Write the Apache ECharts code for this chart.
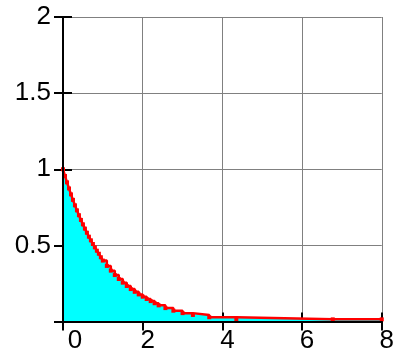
<!DOCTYPE html>
<html>
<head>
<meta charset="utf-8">
<script src="https://cdn.jsdelivr.net/npm/echarts@6/dist/echarts.min.js"></script>
<style>html,body{margin:0;padding:0;background:#fff}#c{width:397px;height:354px}</style>
</head>
<body>
<div id="c"></div>
<script>
// Data (step curve)
var xValues = [0,0.05,0.1,0.15,0.2,0.25,0.3,0.35,0.4,0.45,0.5,0.55,0.6,0.65,0.7,0.75,0.8,0.85,0.9,0.95,1.0,
  1.1,1.2,1.3,1.4,1.5,1.6,1.7,1.8,1.9,2.0,2.1,2.2,2.3,2.4,
  2.57,2.77,3.0,3.26,3.67,4.35,6.77,8.0];
var yValues = [1.000,0.956,0.914,0.874,0.835,0.799,0.763,0.730,0.698,0.667,0.638,0.610,0.583,0.557,0.533,0.509,0.487,0.465,0.445,0.422,0.400,
  0.365,0.334,0.305,0.279,0.255,0.233,0.213,0.195,0.178,0.163,0.148,0.134,0.120,0.106,
  0.088,0.071,0.055,0.043,0.028,0.015,0.014,0.014];
var xTicks = {min:0, max:8, interval:2};
var yTicks = {min:0, max:2, interval:0.5};

var font = '"Liberation Sans", Arial, sans-serif';
var pts = xValues.map(function(x,i){return [x, yValues[i]];});

function baseAxis(t){return {type:'value', min:t.min, max:t.max, interval:t.interval, gridIndex:0};}

var xa0 = baseAxis(xTicks);
Object.assign(xa0, {
  position:'bottom',
  axisLine:{show:false},
  axisTick:{show:true, inside:false, length:9, lineStyle:{color:'#000', width:2}},
  splitLine:{show:true, lineStyle:{color:'#808080', width:1}},
  axisLabel:{show:true, color:'#000', fontFamily:font, fontSize:26, margin:6,
    padding:[0,0,0,10],
    formatter:function(v){return v===0 ? '{z|0}' : String(v);},
    rich:{z:{fontFamily:font, fontSize:26, color:'#000', padding:[0,0,0,14]}}}
});
var xa1 = baseAxis(xTicks);
Object.assign(xa1, {position:'bottom', axisLine:{show:false}, splitLine:{show:false}, axisLabel:{show:false},
  axisTick:{show:true, inside:true, length:9, lineStyle:{color:'#000', width:2}}});
var xa2 = baseAxis(xTicks);
Object.assign(xa2, {position:'bottom', z:5, axisLine:{show:true, lineStyle:{color:'#000', width:2}},
  splitLine:{show:false}, axisLabel:{show:false}, axisTick:{show:false}});

var ya0 = baseAxis(yTicks);
Object.assign(ya0, {
  position:'left',
  axisLine:{show:false},
  axisTick:{show:true, inside:false, length:9, lineStyle:{color:'#000', width:2}},
  splitLine:{show:true, lineStyle:{color:'#808080', width:1}},
  axisLabel:{show:true, color:'#000', fontFamily:font, fontSize:26, margin:12, padding:[8,0,0,0],
    formatter:function(v){return v===0 ? '' : String(v);}}
});
var ya1 = baseAxis(yTicks);
Object.assign(ya1, {position:'left', axisLine:{show:false}, splitLine:{show:false}, axisLabel:{show:false},
  axisTick:{show:true, inside:true, length:9, lineStyle:{color:'#000', width:2}}});
var ya2 = baseAxis(yTicks);
Object.assign(ya2, {position:'left', z:5, axisLine:{show:true, lineStyle:{color:'#000', width:2}},
  splitLine:{show:false}, axisLabel:{show:false}, axisTick:{show:false}});

var chart = echarts.init(document.getElementById('c'), null, {renderer:'canvas'});
chart.setOption({
  animation:false,
  backgroundColor:'#fff',
  grid:{left:63, top:17, right:9.3, bottom:32.5, containLabel:false},
  xAxis:[xa0, xa1, xa2],
  yAxis:[ya0, ya1, ya2],
  series:[{
    type:'line',
    xAxisIndex:0, yAxisIndex:0,
    data:pts,
    step:'end',
    symbol:'rect',
    symbolSize:4,
    showSymbol:true,
    itemStyle:{color:'#ff0000'},
    lineStyle:{color:'#ff0000', width:2.5},
    areaStyle:{color:'#00ffff', opacity:1},
    z:2
  }]
});
</script>
</body>
</html>
